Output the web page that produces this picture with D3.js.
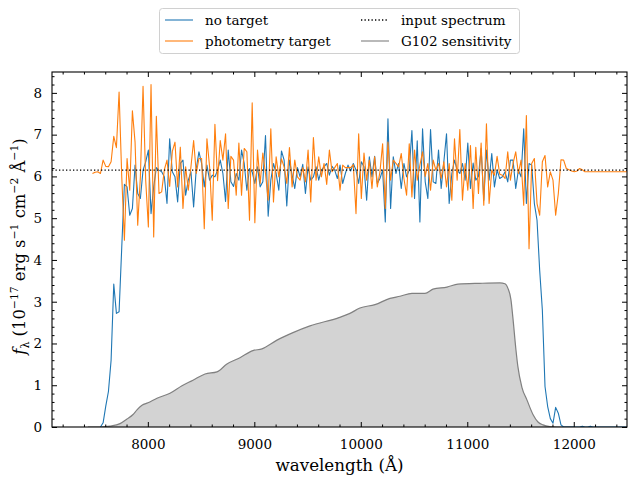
<!DOCTYPE html>
<html>
<head>
<meta charset="utf-8">
<script src="https://cdn.jsdelivr.net/npm/d3@7"></script>
<style>
  body { margin: 0; background: #fff; }
</style>
</head>
<body>
<div id="chart"></div>
<script>
// spectra sampled every 25 A starting at 7480 A
const wave0 = 7480;
const waveStep = 25;

const noTarget = [
  null, null, null, 0.0, 0.1, 0.5, 0.85, 1.6, 3.42, 2.72,
  2.76, 4.3, 5.81, 5.75, 5.07, 5.23, 6.27, 5.59, 5.47, 6.15,
  6.35, 6.63, 5.11, 5.75, 6.21, 6.15, 6.11, 5.99, 5.35, 6.9,
  6.11, 5.99, 5.39, 6.31, 6.39, 5.55, 5.91, 6.11, 5.27, 6.19,
  6.59, 6.31, 5.75, 6.27, 5.91, 6.03, 5.99, 6.15, 6.39, 6.07,
  5.4, 6.63, 5.87, 5.76, 6.07, 5.91, 6.63, 6.31, 5.67, 6.19,
  6.11, 5.83, 6.23, 5.75, 5.87, 6.98, 5.05, 5.91, 6.31, 6.07,
  5.67, 6.61, 6.39, 5.29, 6.39, 6.03, 5.71, 6.21, 5.99, 6.29,
  5.59, 6.23, 5.91, 5.99, 6.23, 5.91, 6.15, 6.23, 6.31, 6.03,
  6.24, 6.15, 5.95, 6.27, 5.83, 6.07, 6.27, 6.13, 6.31, 6.15,
  5.83, 6.35, 6.23, 5.43, 6.47, 5.99, 6.48, 5.83, 5.95, 6.15,
  4.91, 7.38, 5.23, 6.47, 6.07, 6.31, 5.71, 6.31, 5.99, 6.15,
  7.10, 5.47, 6.85, 4.91, 7.14, 5.87, 5.47, 7.12, 5.87, 5.83,
  6.63, 5.71, 6.35, 7.02, 5.35, 6.07, 6.39, 6.15, 6.07, 6.31,
  5.91, 6.8, 5.71, 6.32, 5.91, 6.0, 6.67, 5.43, 6.63, 5.91,
  6.55, 5.75, 6.15, 5.95, 5.99, 6.11, 5.87, 6.39, 6.39, 5.71,
  6.15, 5.99, 7.14, 5.35, 6.31, 6.27, 5.35, 4.95, 3.75, 2.8,
  0.97, 0.49, 0.2, 0.09, 0.47, 0.33, 0.05, 0, 0, 0,
  0, 0, 0, 0, 0.02, 0, 0, 0.02, 0, 0,
  0, 0, 0, 0, 0, 0, 0, 0, 0, 0,
  0, 0
];

const photTarget = [
  6.07, 6.10, 6.11, 6.07, 6.39, 6.24, 6.23, 6.35, 6.96, 6.69,
  8.02, 6.0, 4.47, 6.43, 5.67, 7.57, 6.82, 4.83, 5.99, 8.16,
  5.9, 4.79, 8.2, 4.55, 7.44, 5.59, 5.63, 6.16, 6.39, 5.76,
  6.6, 6.82, 5.75, 6.7, 5.23, 6.23, 5.67, 6.23, 6.86, 6.07,
  6.43, 6.43, 4.75, 6.9, 6.23, 4.95, 7.25, 5.9, 6.86, 6.39,
  7.02, 5.23, 6.48, 6.39, 5.55, 6.8, 5.55, 6.67, 6.59, 4.95,
  7.76, 4.89, 6.63, 5.83, 6.56, 6.07, 5.43, 7.14, 5.39, 6.47,
  5.99, 6.42, 6.23, 5.83, 6.69, 5.75, 6.39, 5.99, 5.91, 6.21,
  5.87, 6.63, 5.39, 6.93, 5.91, 6.47, 5.99, 6.31, 5.81, 6.63,
  6.11, 6.21, 6.31, 5.67, 6.27, 6.21, 6.21, 6.21, 6.28, 5.11,
  7.02, 5.47, 6.56, 5.91, 6.39, 5.71, 6.47, 5.75, 6.11, 6.78,
  5.23, 6.82, 5.91, 6.39, 6.31, 6.23, 6.55, 5.95, 5.55, 6.78,
  5.51, 6.63, 5.91, 6.27, 6.59, 6.0, 6.31, 5.67, 6.39, 6.15,
  6.31, 5.95, 6.35, 5.75, 6.31, 5.43, 6.9, 5.91, 7.12, 5.43,
  6.31, 5.67, 6.74, 5.23, 6.7, 5.59, 6.8, 5.31, 7.26, 5.35,
  6.15, 6.03, 6.48, 6.05, 6.03, 5.95, 6.59, 5.91, 6.31, 6.59,
  6.07, 6.39, 5.31, 7.46, 4.27, 6.31, 6.43, 5.35, 5.07, 6.35,
  6.5, 5.75, 6.11, 5.91, 5.07, 5.59, 6.4, 6.39, 6.19, 6.16,
  6.13, 6.11, 6.13, 6.19, 6.16, 6.11, 6.11, 6.11, 6.11, 6.11,
  6.11, 6.11, 6.11, 6.11, 6.11, 6.11, 6.11, 6.11, 6.11, 6.11,
  6.11, 6.11
];

const inputLevel = 6.15;

// G102 sensitivity curve (arbitrary scaling)
const sensWave = [7438, 7551, 7645, 7739, 7804, 7861, 7898, 7945, 8001, 8086,
  8208, 8321, 8424, 8537, 8649, 8743, 8865, 8987, 9072, 9213,
  9363, 9523, 9795, 9898, 9992, 10133, 10274, 10368, 10480, 10603,
  10678, 10809, 10913, 11119, 11307, 11354, 11382, 11410, 11429, 11457,
  11475, 11513, 11560, 11617, 11664, 11711, 11776, 11842, 12000];
const sensVal = [0, 0.0, 0.02, 0.08, 0.19, 0.3, 0.41, 0.52, 0.58, 0.69,
  0.81, 0.99, 1.12, 1.27, 1.32, 1.51, 1.66, 1.83, 1.87, 2.08,
  2.26, 2.42, 2.62, 2.72, 2.85, 2.93, 3.08, 3.13, 3.2, 3.2,
  3.3, 3.35, 3.42, 3.44, 3.45, 3.43, 3.32, 3.05, 2.6, 1.85,
  1.45, 0.95, 0.65, 0.3, 0.12, 0.05, 0.01, 0, 0];

const xTicks = [8000, 9000, 10000, 11000, 12000];
const yTicks = [0, 1, 2, 3, 4, 5, 6, 7, 8];

const font = "DejaVu Serif";
const width = 640, height = 480;
const margin = {top: 72, right: 13, bottom: 53, left: 52};
const iw = width - margin.left - margin.right;
const ih = height - margin.top - margin.bottom;

const svg = d3.select("#chart").append("svg")
  .attr("width", width)
  .attr("height", height)
  .attr("font-family", font);

const g = svg.append("g")
  .attr("transform", `translate(${margin.left},${margin.top})`);

const x = d3.scaleLinear().domain([7100, 12500]).range([0, iw]);
const y = d3.scaleLinear().domain([0, 8.5]).range([ih, 0]);

g.append("clipPath").attr("id", "clip")
  .append("rect").attr("width", iw).attr("height", ih);

const plot = g.append("g").attr("clip-path", "url(#clip)");

const sens = sensWave.map((w, i) => ({w: w, v: sensVal[i]}));
plot.append("path")
  .datum(sens)
  .attr("fill", "#d3d3d3")
  .attr("d", d3.area().x(d => x(d.w)).y0(y(0)).y1(d => y(d.v)).curve(d3.curveMonotoneX));
plot.append("path")
  .datum(sens)
  .attr("fill", "none")
  .attr("stroke", "#808080")
  .attr("stroke-width", 1.2)
  .attr("d", d3.line().x(d => x(d.w)).y(d => y(d.v)).curve(d3.curveMonotoneX));

const line = d3.line()
  .defined(d => d.v !== null)
  .x(d => x(d.w))
  .y(d => y(d.v));

const toPts = arr => arr.map((v, i) => ({w: wave0 + i * waveStep, v: v}));

plot.append("path")
  .datum(toPts(noTarget))
  .attr("fill", "none")
  .attr("stroke", "#1f77b4")
  .attr("stroke-width", 1.1)
  .attr("stroke-linejoin", "round")
  .attr("d", line);

plot.append("path")
  .datum(toPts(photTarget))
  .attr("fill", "none")
  .attr("stroke", "#ff7f0e")
  .attr("stroke-width", 1.1)
  .attr("stroke-linejoin", "round")
  .attr("d", line);

plot.append("line")
  .attr("x1", 0).attr("x2", iw)
  .attr("y1", y(inputLevel)).attr("y2", y(inputLevel))
  .attr("stroke", "#000")
  .attr("stroke-width", 1.3)
  .attr("stroke-dasharray", "1.3,2.2");

// axes, ticks pointing inwards on all sides
const fs = 13.5;
const xMinor = d3.range(7200, 12501, 200).filter(v => v % 1000 !== 0);
const yMinor = d3.range(0, 8.5, 0.2).filter(v => Math.abs(v - Math.round(v)) > 1e-6);

function styleAxis(sel) {
  sel.attr("font-family", font);
  sel.select(".domain").remove();
  sel.selectAll("text").attr("font-family", font).attr("font-size", fs).attr("fill", "#000");
  sel.selectAll("line").attr("stroke", "#000");
}

g.append("g").attr("transform", `translate(0,${ih})`)
  .call(d3.axisBottom(x).tickValues(xTicks).tickSize(-5).tickPadding(12).tickFormat(d3.format("d")))
  .call(styleAxis);
g.append("g").attr("transform", `translate(0,${ih})`)
  .call(d3.axisBottom(x).tickValues(xMinor).tickSize(-2.5).tickFormat(""))
  .call(styleAxis);
g.append("g")
  .call(d3.axisTop(x).tickValues(xTicks).tickSize(-5).tickFormat(""))
  .call(styleAxis);
g.append("g")
  .call(d3.axisTop(x).tickValues(xMinor).tickSize(-2.5).tickFormat(""))
  .call(styleAxis);

g.append("g")
  .call(d3.axisLeft(y).tickValues(yTicks).tickSize(-5).tickPadding(10).tickFormat(d3.format("d")))
  .call(styleAxis);
g.append("g")
  .call(d3.axisLeft(y).tickValues(yMinor).tickSize(-2.5).tickFormat(""))
  .call(styleAxis);
g.append("g").attr("transform", `translate(${iw},0)`)
  .call(d3.axisRight(y).tickValues(yTicks).tickSize(-5).tickFormat(""))
  .call(styleAxis);
g.append("g").attr("transform", `translate(${iw},0)`)
  .call(d3.axisRight(y).tickValues(yMinor).tickSize(-2.5).tickFormat(""))
  .call(styleAxis);

g.append("rect")
  .attr("width", iw).attr("height", ih)
  .attr("fill", "none")
  .attr("stroke", "#000")
  .attr("stroke-width", 1.1);

// axis labels
g.append("text")
  .attr("x", iw / 2)
  .attr("y", ih + 44)
  .attr("text-anchor", "middle")
  .attr("font-family", font)
  .attr("font-size", 16.7)
  .text("wavelength (Å)");

const yl = g.append("text")
  .attr("transform", `translate(-27,${ih / 2 - 3}) rotate(-90)`)
  .attr("text-anchor", "middle")
  .attr("font-family", font)
  .attr("font-size", 16.4);
yl.append("tspan").attr("font-style", "italic").text("f");
yl.append("tspan").attr("font-size", 11).attr("dy", 4).text("λ");
yl.append("tspan").attr("dy", -4).text(" (10");
yl.append("tspan").attr("font-size", 10.8).attr("dy", -7).text("−17");
yl.append("tspan").attr("dy", 7).text(" erg s");
yl.append("tspan").attr("font-size", 10.8).attr("dy", -7).text("−1");
yl.append("tspan").attr("dy", 7).text(" cm");
yl.append("tspan").attr("font-size", 10.8).attr("dy", -7).text("−2");
yl.append("tspan").attr("dy", 7).text(" Å");
yl.append("tspan").attr("font-size", 10.8).attr("dy", -7).text("−1");
yl.append("tspan").attr("dy", 7).text(")");

// legend
const legendItems = [
  {label: "no target", color: "#1f77b4", dash: null, col: 0, row: 0},
  {label: "photometry target", color: "#ff7f0e", dash: null, col: 0, row: 1},
  {label: "input spectrum", color: "#000", dash: "1.3,2.2", col: 1, row: 0},
  {label: "G102 sensitivity", color: "#808080", dash: null, col: 1, row: 1}
];
const lg = svg.append("g");
lg.append("rect")
  .attr("x", 159.5).attr("y", 8.5)
  .attr("width", 360).attr("height", 45)
  .attr("rx", 3)
  .attr("fill", "#fff").attr("fill-opacity", 0.8)
  .attr("stroke", "#d0d0d0");
const colX = [165, 361];
const rowY = [20, 41];
legendItems.forEach(d => {
  const x0 = colX[d.col], y0 = rowY[d.row];
  lg.append("line")
    .attr("x1", x0).attr("x2", x0 + 28)
    .attr("y1", y0).attr("y2", y0)
    .attr("stroke", d.color)
    .attr("stroke-width", d.dash ? 1.3 : 1.1)
    .attr("stroke-dasharray", d.dash);
  lg.append("text")
    .attr("x", x0 + 40).attr("y", y0 + 5)
    .attr("font-family", font)
    .attr("font-size", fs)
    .text(d.label);
});
</script>
</body>
</html>
